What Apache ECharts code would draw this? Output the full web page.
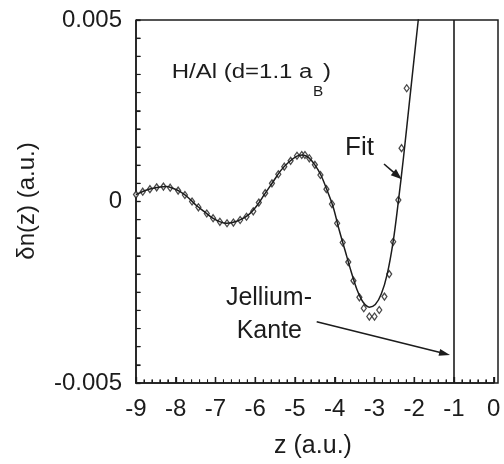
<!DOCTYPE html>
<html><head><meta charset="utf-8">
<script src="https://cdn.jsdelivr.net/npm/echarts@6/dist/echarts.min.js"></script>
<style>html,body{margin:0;padding:0;background:#fff}#c{width:504px;height:464px}</style>
</head><body><div id="c"></div>
<script>
// Fit curve (z in a.u., delta n in a.u.)
const fitZ = [-9.0,-8.80,-8.60,-8.39,-8.24,-8.09,-7.89,-7.69,-7.48,-7.28,-7.08,-6.88,-6.72,-6.57,-6.37,-6.17,-5.97,-5.76,-5.56,-5.36,-5.16,-4.95,-4.80,-4.65,-4.50,-4.35,-4.20,-4.04,-3.89,-3.74,-3.59,-3.44,-3.29,-3.13,-2.98,-2.83,-2.68,-2.53,-2.40,-2.27,-2.12,-1.97,-1.82];
const fitV = [0.00019,0.00029,0.00036,0.00040,0.00041,0.00037,0.00027,0.00011,-0.00011,-0.00028,-0.00045,-0.00056,-0.00060,-0.00058,-0.00050,-0.00037,-0.00013,0.00021,0.00053,0.00085,0.00108,0.00125,0.00128,0.00120,0.00101,0.00073,0.00033,-0.00015,-0.00078,-0.00135,-0.00192,-0.00243,-0.00277,-0.00291,-0.00284,-0.00255,-0.00200,-0.00110,0.0,0.00122,0.00275,0.00428,0.0058];
// Calculated points (diamonds)
const dataZ = [-9.0,-8.83,-8.65,-8.48,-8.31,-8.14,-7.94,-7.77,-7.59,-7.43,-7.22,-7.06,-6.89,-6.71,-6.55,-6.38,-6.22,-6.05,-5.91,-5.75,-5.58,-5.42,-5.27,-5.11,-4.95,-4.83,-4.75,-4.64,-4.50,-4.36,-4.21,-4.07,-3.94,-3.80,-3.66,-3.53,-3.38,-3.27,-3.13,-3.00,-2.88,-2.75,-2.63,-2.53,-2.40,-2.32,-2.19];
const dataV = [0.00019,0.00027,0.00034,0.00039,0.00041,0.00038,0.00030,0.00018,0.0,-0.00016,-0.00033,-0.00046,-0.00056,-0.00060,-0.00058,-0.00051,-0.00042,-0.00027,-0.00003,0.00023,0.00050,0.00075,0.00096,0.00112,0.00126,0.00128,0.00128,0.00119,0.00101,0.00073,0.00034,-0.00007,-0.00060,-0.00113,-0.00167,-0.00218,-0.00264,-0.00294,-0.00317,-0.00317,-0.00299,-0.00262,-0.00200,-0.00111,0.00004,0.00147,0.00312];
const jelliumZ = -1;
const xRange = [-9, 0];
const yRange = [-0.005, 0.005];
const yLabelValues = [-0.005, 0, 0.005];
const xMinorStep = 0.2;
const yMinorStep = 0.0005;

const FONT = 'Liberation Sans, Arial, Helvetica, sans-serif';
const INK = '#1c1c1c';

function arrow(x1, y1, x2, y2, len, w) {
  const dx = x2 - x1, dy = y2 - y1, L = Math.hypot(dx, dy), ux = dx / L, uy = dy / L;
  const bx = x2 - ux * len, by = y2 - uy * len;
  return [
    {type: 'line', shape: {x1: x1, y1: y1, x2: bx + ux * 2, y2: by + uy * 2}, style: {stroke: INK, lineWidth: 1.6}},
    {type: 'polygon', shape: {points: [[x2, y2], [bx - uy * w / 2, by + ux * w / 2], [bx + uy * w / 2, by - ux * w / 2]]}, style: {fill: INK}}
  ];
}
function txt(x, y, s, size, align, extra) {
  return Object.assign({type: 'text', x: x, y: y, style: {text: s, fill: INK, fontSize: size, fontFamily: FONT,
    align: align, verticalAlign: 'middle', textAlign: align, textVerticalAlign: 'middle'}}, extra || {});
}

const chart = echarts.init(document.getElementById('c'));
const baseGraphic = [
  {type: 'polyline', silent: true, shape: {points: [[136, 20], [498, 20], [498, 383], [136, 383], [136, 20]]},
    style: {fill: null, stroke: INK, lineWidth: 1.5}},
  txt(27, 201, 'δn(z) (a.u.)', 24, 'center', {rotation: Math.PI / 2}),
  txt(313, 446, 'z (a.u.)', 25, 'center'),
  txt(171.7, 72, 'H/Al (d=1.1 a', 20, 'left', {scaleX: 1.2}),
  txt(313, 92, 'B', 14, 'left', {scaleX: 1.1}),
  txt(323, 72, ')', 20, 'left', {scaleX: 1.2}),
  txt(345, 148, 'Fit', 26, 'left'),
  txt(312, 298, 'Jellium-', 25, 'right'),
  txt(302, 331, 'Kante', 25, 'right')
].concat(arrow(384, 164, 401.7, 179.3, 11, 8)).concat(arrow(316.7, 321.7, 450, 355, 11, 7));

chart.setOption({
  animation: false,
  grid: {left: 136, top: 20, width: 357.75, height: 363},
  xAxis: {
    type: 'value', min: xRange[0], max: xRange[1], interval: 1,
    axisLine: {show: true, onZero: false, lineStyle: {color: INK, width: 1.5}},
    axisTick: {show: true, inside: true, length: 6, lineStyle: {color: INK, width: 1.3}},
    minorTick: {show: true, splitNumber: 5, length: 3.5, lineStyle: {color: INK, width: 1}},
    splitLine: {show: false},
    axisLabel: {fontSize: 24, color: INK, margin: 14, fontFamily: FONT}
  },
  yAxis: {
    type: 'value', min: yRange[0], max: yRange[1], interval: 0.005,
    axisLine: {show: true, onZero: false, lineStyle: {color: INK, width: 1.5}},
    axisTick: {show: true, inside: true, length: 4.5, lineStyle: {color: INK, width: 1.3}},
    minorTick: {show: true, splitNumber: 10, length: 4.5, lineStyle: {color: INK, width: 1.1}},
    splitLine: {show: false},
    axisLabel: {fontSize: 24, color: INK, margin: 14, fontFamily: FONT,
      formatter: function (v) {
        const m = yLabelValues.find(t => Math.abs(t - v) < 1e-9);
        if (m === undefined) return '';
        return m === 0 ? '0' : m.toFixed(3);
      }}
  },
  series: [
    {
      type: 'line', name: 'Fit', data: fitZ.map((z, i) => [z, fitV[i]]),
      smooth: 0.35, showSymbol: false, clip: true,
      lineStyle: {color: INK, width: 1.5},
      markLine: {silent: true, symbol: ['none', 'none'], label: {show: false},
        lineStyle: {color: INK, width: 1.6, type: 'solid'}, data: [{xAxis: jelliumZ}]}
    },
    {
      type: 'scatter', name: 'Daten', data: dataZ.map((z, i) => [z, dataV[i]]),
      symbol: 'diamond', symbolSize: [5, 7],
      itemStyle: {color: '#fff', borderColor: INK, borderWidth: 1.3}
    }
  ],
  graphic: baseGraphic
});

// Tick marks placed through the axis scales (inward-pointing, as in the original figure)
const tickEls = [];
const nx = Math.round((xRange[1] - xRange[0]) / xMinorStep);
const yBottom = chart.convertToPixel({yAxisIndex: 0}, yRange[0]);
for (let k = 0; k <= nx; k++) {
  const px = chart.convertToPixel({xAxisIndex: 0}, xRange[0] + k * xMinorStep);
  const major = k % 5 === 0;
  tickEls.push({type: 'line', silent: true, shape: {x1: px, y1: yBottom, x2: px, y2: yBottom - (major ? 6 : 3.5)},
    style: {stroke: INK, lineWidth: major ? 1.3 : 1}});
}
const ny = Math.round((yRange[1] - yRange[0]) / yMinorStep);
const xLeft = chart.convertToPixel({xAxisIndex: 0}, xRange[0]);
for (let k = 0; k <= ny; k++) {
  const py = chart.convertToPixel({yAxisIndex: 0}, yRange[0] + k * yMinorStep);
  tickEls.push({type: 'line', silent: true, shape: {x1: xLeft, y1: py, x2: xLeft + 4.5, y2: py},
    style: {stroke: INK, lineWidth: 1.1}});
}
chart.setOption({graphic: baseGraphic.concat(tickEls)});
</script></body></html>
